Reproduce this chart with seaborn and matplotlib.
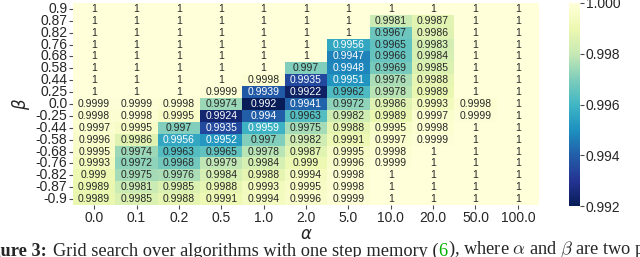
import numpy as np
import pandas as pd
import matplotlib
matplotlib.use("Agg")
import matplotlib.pyplot as plt
import seaborn as sns

alphas = ["0.0", "0.1", "0.2", "0.5", "1.0", "2.0", "5.0", "10.0", "20.0", "50.0", "100.0"]
betas = ["0.9", "0.87", "0.82", "0.76", "0.68", "0.58", "0.44", "0.25", "0.0",
         "-0.25", "-0.44", "-0.58", "-0.68", "-0.76", "-0.82", "-0.87", "-0.9"]

scores = [
    [1, 1, 1, 1, 1, 1, 1, 1, 1, 1, 1],
    [1, 1, 1, 1, 1, 1, 1, 0.9981, 0.9987, 1, 1],
    [1, 1, 1, 1, 1, 1, 1, 0.9967, 0.9986, 1, 1],
    [1, 1, 1, 1, 1, 1, 0.9956, 0.9965, 0.9983, 1, 1],
    [1, 1, 1, 1, 1, 1, 0.9947, 0.9966, 0.9984, 1, 1],
    [1, 1, 1, 1, 1, 0.997, 0.9948, 0.9969, 0.9985, 1, 1],
    [1, 1, 1, 1, 0.9998, 0.9935, 0.9951, 0.9976, 0.9988, 1, 1],
    [1, 1, 1, 0.9999, 0.9939, 0.9922, 0.9962, 0.9978, 0.9989, 1, 1],
    [0.9999, 0.9999, 0.9998, 0.9974, 0.992, 0.9941, 0.9972, 0.9986, 0.9993, 0.9998, 1],
    [0.9998, 0.9998, 0.9995, 0.9924, 0.994, 0.9963, 0.9982, 0.9989, 0.9997, 0.9999, 1],
    [0.9997, 0.9995, 0.997, 0.9935, 0.9959, 0.9975, 0.9988, 0.9995, 0.9998, 1, 1],
    [0.9996, 0.9986, 0.9956, 0.9952, 0.997, 0.9982, 0.9991, 0.9997, 0.9999, 1, 1],
    [0.9995, 0.9974, 0.9963, 0.9965, 0.9978, 0.9987, 0.9995, 0.9998, 1, 1, 1],
    [0.9993, 0.9972, 0.9968, 0.9979, 0.9984, 0.999, 0.9996, 0.9999, 1, 1, 1],
    [0.999, 0.9975, 0.9976, 0.9984, 0.9988, 0.9994, 0.9998, 1, 1, 1, 1],
    [0.9989, 0.9981, 0.9985, 0.9988, 0.9993, 0.9995, 0.9998, 1, 1, 1, 1],
    [0.9989, 0.9985, 0.9988, 0.9991, 0.9994, 0.9996, 0.9999, 1, 1, 1, 1],
]
cbar_ticks = [0.992, 0.994, 0.996, 0.998, 1.000]

sns.set_theme(style="ticks")
plt.rcParams["font.family"] = ["Liberation Sans", "DejaVu Sans"]
plt.rcParams["mathtext.fontset"] = "dejavusans"

df = pd.DataFrame(scores, index=betas, columns=alphas)

W, H = 640, 257
fig = plt.figure(figsize=(6.4, 2.57), dpi=100)
ax = fig.add_axes([73 / W, (H - 205) / H, (539 - 73) / W, 202 / H])
cax = fig.add_axes([569 / W, (H - 206) / H, 11 / W, 203 / H])

sns.heatmap(df, ax=ax, cbar_ax=cax, cmap="YlGnBu_r", vmin=0.992, vmax=1.0,
            annot=True, fmt=".4g", annot_kws={"size": 7.5},
            xticklabels=True, yticklabels=True,
            cbar_kws={"ticks": cbar_ticks, "format": "%.3f"})

ax.tick_params(axis="both", labelsize=10, length=3, width=0.8, pad=1, color="0.3")
ax.tick_params(axis="x", labelrotation=0)
ax.tick_params(axis="y", labelrotation=0)
ax.set_xlabel(r"$\alpha$", fontsize=12, labelpad=2)
ax.set_ylabel(r"$\beta$", fontsize=12, labelpad=3)

cax.tick_params(labelsize=10, length=3, width=0.8, pad=1, color="0.3")

# partially visible caption below the figure
serif = ["Liberation Serif", "DejaVu Serif"]
t1 = fig.text(47 / W, 1.5 / H, "Figure 3:", ha="right", va="baseline",
              fontsize=11, fontweight="bold", family=serif)
t2 = fig.text(53 / W, 1.5 / H, "Grid search over algorithms with one step memory (",
              ha="left", va="baseline", fontsize=11, family=serif)
fig.canvas.draw()
r = fig.canvas.get_renderer()
w = t2.get_window_extent(r).width
fs = 11 * (439 - 53) / w
t1.set_fontsize(fs)
t2.set_fontsize(fs)
t3 = ax.annotate("6", xy=(1, 0), xycoords=t2, va="bottom", ha="left",
                 color="#00b000", fontsize=fs, family=serif, annotation_clip=False)
t4 = ax.annotate("), where $\\alpha$ and $\\beta$ are two parameters of the method",
                 xy=(1, 0), xycoords=t3, va="bottom", ha="left",
                 fontsize=fs, family=serif, annotation_clip=False)
t4.set_math_fontfamily("cm")

fig.savefig("out.png", dpi=100)
